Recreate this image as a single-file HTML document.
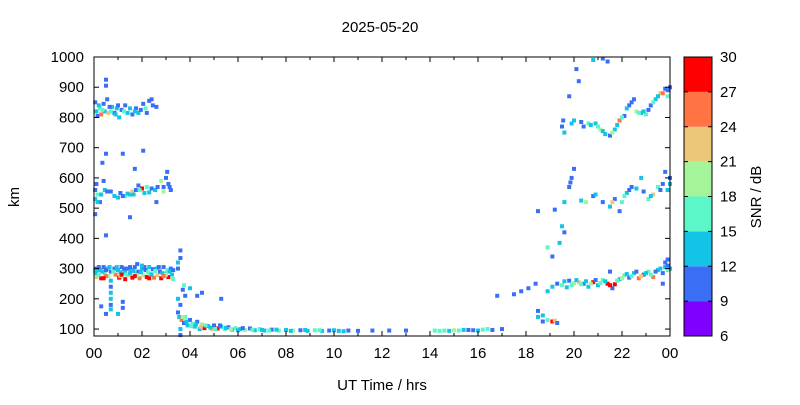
<!DOCTYPE html>
<html><head><meta charset="utf-8"><style>
body{margin:0;background:#fff;font-family:"Liberation Sans",sans-serif}
svg text{font-family:"Liberation Sans",sans-serif;font-size:15px;fill:#000}
</style></head><body>
<svg id="c" width="800" height="400" xmlns="http://www.w3.org/2000/svg">
<text x="380" y="32" text-anchor="middle">2025-05-20</text>
<text x="382" y="390" text-anchor="middle">UT Time / hrs</text>
<text transform="translate(19,197) rotate(-90)" text-anchor="middle">km</text>
<text transform="translate(761,197) rotate(-90)" text-anchor="middle">SNR / dB</text>
<g id="marks"></g><g id="axes"></g>
</svg>
<script>
const xTicks=[0,2,4,6,8,10,12,14,16,18,20,22,24];
const xTickLabels=["00","02","04","06","08","10","12","14","16","18","20","22","00"];
const yTicks=[100,200,300,400,500,600,700,800,900,1000];
const cbLevels=[6,9,12,15,18,21,24,27,30];
const cbColors=["#7f00ff","#3a6ff5","#14c4e6","#5cf7c8","#a4f59a","#ecc679","#ff7442","#ff0000"];
// [hour, km, snr]
const fLowEarly=[[0.1,300,10],[0.1,285,13],[0.1,272,22],[0.25,295,13],[0.3,268,28],[0.4,305,10],[0.45,282,16],[0.55,300,13],[0.6,275,19],[0.7,290,10],[0.7,260,13],[0.7,240,10],[0.7,220,13],[0.7,200,13],[0.7,180,10],[0.7,165,13],[0.85,300,10],[0.9,280,25],[1.0,295,13],[1.05,270,28],[1.15,305,10],[1.2,285,16],[1.3,290,13],[1.3,265,28],[1.4,300,10],[1.45,278,22],[1.55,296,13],[1.6,270,28],[1.7,305,10],[1.75,285,16],[1.85,290,10],[1.9,268,25],[2.0,300,13],[2.05,278,19],[2.15,295,10],[2.2,272,28],[2.3,305,13],[2.35,283,16],[2.45,298,10],[2.5,270,25],[2.6,300,13],[2.65,278,22],[2.75,290,10],[2.8,268,28],[2.9,305,10],[2.95,283,13],[3.05,295,16],[3.1,272,28],[3.2,300,10],[3.25,280,13],[3.3,265,16],[0.5,150,10],[1.0,150,13],[1.2,170,10],[1.2,190,10],[0.3,175,10],[3.6,360,10],[3.6,335,10],[3.5,320,13],
[0.05,292,13],[0.2,305,10],[0.2,280,16],[0.35,290,13],[0.5,295,10],[0.5,275,25],[0.65,305,13],[0.8,290,16],[0.95,305,13],[1.1,288,13],[1.1,275,22],[1.25,300,10],[1.35,280,16],[1.5,305,10],[1.5,285,13],[1.65,292,13],[1.8,278,19],[1.95,288,13],[2.1,305,10],[2.25,288,16],[2.4,280,13],[2.55,292,16],[2.7,305,10],[2.85,285,13],[3.0,280,19],[3.15,290,13],[3.3,295,10],[1.8,315,10],[2.0,310,13],[1.15,280,28],[1.7,275,28],[2.9,275,25],[0.4,268,28],[2.3,268,28]];
const fMidEarly=[[0.05,560,10],[0.05,530,13],[0.1,580,10],[0.15,545,16],[0.25,520,10],[0.3,545,13],[0.4,590,10],[0.45,560,13],[0.55,555,10],[0.7,555,10],[0.85,540,13],[1.0,535,13],[1.1,550,10],[1.3,540,16],[1.5,545,13],[1.6,555,22],[1.75,560,10],[1.85,575,10],[2.0,565,28],[2.1,550,13],[2.2,570,16],[2.4,565,10],[2.55,560,13],[2.65,570,10],[2.8,590,19],[2.9,570,10],[3.0,600,10],[3.05,620,10],[3.1,580,10],[3.2,560,10],[0.5,680,10],[0.5,410,10],[0.35,650,10],[1.2,680,10],[1.7,630,10],[1.5,470,10],[2.05,690,10],[2.6,520,10],[0.05,480,10],
[0.15,520,13],[0.6,555,10],[1.2,540,10],[1.4,548,13],[1.9,560,16],[2.3,552,13],[2.9,555,19],[3.15,570,10],[1.65,545,13]];
const fHighEarly=[[0.05,850,10],[0.1,820,13],[0.15,805,10],[0.25,830,16],[0.3,810,25],[0.4,845,10],[0.45,820,13],[0.55,860,10],[0.6,815,22],[0.75,835,13],[0.85,815,10],[0.95,830,13],[1.05,800,13],[1.15,825,10],[1.3,840,10],[1.4,815,13],[1.5,830,13],[1.6,810,10],[1.75,830,10],[1.85,815,13],[2.05,845,10],[2.15,830,16],[2.3,855,10],[2.45,840,10],[2.6,835,10],[0.5,925,10],[0.5,905,10],[2.2,815,10],
[0.2,840,13],[0.35,825,16],[0.65,835,10],[0.9,810,13],[1.25,820,16],[1.7,820,13],[1.95,825,10],[2.4,860,10],[0.7,820,16],[1.0,840,10]];
const eLayer=[[3.5,155,10],[3.55,140,13],[3.65,130,25],[3.75,120,10],[3.8,140,16],[3.9,112,13],[4.0,130,10],[4.1,118,16],[4.2,108,13],[4.3,124,10],[4.4,100,13],[4.5,115,19],[4.6,103,28],[4.75,110,13],[4.9,100,22],[5.0,112,10],[5.15,102,28],[5.3,108,13],[5.45,100,16],[5.6,106,10],[5.75,98,13],[5.9,103,16],[6.1,100,13],[6.3,97,19],[6.5,102,10],[6.7,96,13],[6.9,100,16],[7.1,95,13],[7.4,98,10],[7.7,95,16],[8.0,97,13],[8.3,95,19],[8.6,96,10],[8.9,94,13],[9.2,96,16],[9.5,94,13],[9.8,95,10],[10.2,94,13],[10.6,95,10],[11.0,94,10],[11.6,95,10],[12.3,95,10],[13.0,95,10],[14.2,95,16],[14.6,95,16],[15.0,96,19],[15.4,97,13],[15.8,96,10],[16.2,98,16],[16.6,97,10],[17.0,100,10],[3.7,230,10],[3.75,245,16],[3.8,210,10],[4.0,235,13],[4.3,210,10],[4.5,220,10],[5.3,200,10],[3.5,300,10],[3.6,180,10],[3.6,80,10],[3.5,200,13],[3.6,100,13],
[3.7,140,19],[3.85,125,13],[4.05,110,16],[4.25,115,13],[4.45,108,22],[4.65,112,16],[4.85,105,13],[5.05,100,16],[5.25,112,10],[5.5,104,13],[5.7,100,19],[6.0,96,13],[6.2,103,10],[6.6,98,16],[7.0,97,13],[7.3,95,16],[7.6,98,13],[8.2,94,13],[8.8,97,13],[9.4,96,16],[10.0,96,13],[10.4,93,13],[14.4,94,16],[14.8,94,13],[15.2,95,16],[15.6,97,10],[16.0,95,13],[16.4,100,16]];
const tail=[[16.8,210,10],[17.5,215,10],[17.8,225,10],[18.1,235,10],[18.4,250,10],[18.5,160,10],[18.5,140,13],[18.7,145,13],[18.9,130,16],[19.1,125,28],[19.2,128,22],[18.7,125,10],[19.3,120,10],[18.9,225,13],[19.1,240,13],[19.3,250,10],[19.5,245,16],[19.7,238,13],[19.8,260,10],[20.0,252,19],[20.2,255,22],[20.4,250,10],[20.6,240,13],[20.8,255,28],[21.0,245,13],[21.2,262,16],[21.4,250,28],[21.6,235,10],[21.7,248,28],[21.9,265,13],[22.1,278,16],[22.3,270,10],[22.5,285,13],[22.7,268,25],[22.9,280,10],[23.1,290,16],[23.3,272,25],[23.5,295,13],[23.7,285,10],[23.8,305,13],[23.9,330,10],[24.0,300,13],[23.7,250,10],[21.5,290,10],[19.1,340,10],[18.9,370,16],[19.4,385,13],[19.6,420,10],[19.5,440,13],[18.5,490,10],
[19.6,258,13],[19.9,245,16],[20.1,262,13],[20.3,248,16],[20.5,258,13],[20.7,250,19],[20.9,262,10],[21.1,252,16],[21.3,258,13],[21.5,245,28],[21.8,260,16],[22.0,268,19],[22.2,282,13],[22.4,275,16],[22.6,290,10],[22.8,275,22],[23.0,285,13],[23.2,280,16],[23.4,290,10],[23.6,300,13],[23.9,295,16],[23.9,310,10],[23.8,320,10]];
const fMidLate=[[19.6,520,13],[19.8,570,10],[19.9,600,10],[20.0,630,10],[20.3,525,13],[20.5,520,19],[20.8,540,10],[21.2,520,10],[21.5,505,13],[21.7,530,10],[21.9,490,10],[22.0,520,16],[22.2,550,13],[22.4,570,10],[22.6,565,13],[22.9,555,10],[23.1,530,16],[23.3,545,22],[23.5,570,16],[23.7,580,10],[23.8,620,10],[24.0,600,10],[23.9,560,13],[19.2,495,10],[22.8,600,13],
[21.6,520,22],[22.1,540,16],[22.3,560,10],[23.2,540,13],[23.6,560,10],[24.0,580,13],[19.85,585,10],[20.9,545,13]];
const fHighLate=[[19.5,770,10],[19.6,750,13],[19.8,870,10],[20.0,790,13],[20.1,960,10],[20.4,770,10],[20.6,780,16],[20.9,780,13],[21.1,760,19],[21.3,745,13],[21.5,740,10],[21.7,760,13],[21.9,790,25],[22.1,805,10],[22.3,840,10],[22.5,860,10],[22.6,820,19],[22.8,815,13],[23.0,810,16],[23.2,840,10],[23.4,860,13],[23.6,880,22],[23.8,895,10],[23.9,870,16],[24.0,900,10],[20.8,990,13],[21.2,995,10],[21.4,985,10],[20.2,920,10],
[19.55,790,10],[19.9,780,13],[20.3,785,10],[20.7,775,13],[21.0,770,16],[21.2,755,13],[21.6,750,19],[21.8,775,13],[22.0,800,16],[22.2,830,13],[22.4,850,10],[22.7,815,16],[22.9,820,13],[23.1,825,10],[23.3,850,16],[23.5,870,13],[23.7,880,25],[23.9,890,10]];

const X0=94,X1=670,Y0=57,Y1=336,KM0=77,KM1=1000;
const sx=h=>X0+(h/24)*(X1-X0);
const sy=k=>Y1-(k-KM0)/(KM1-KM0)*(Y1-Y0);
const col=s=>{for(let i=0;i<cbColors.length;i++){if(s<cbLevels[i+1])return cbColors[i];}return cbColors[cbColors.length-1];};
const NS="http://www.w3.org/2000/svg";
const marks=document.getElementById('marks'),axes=document.getElementById('axes');
function mk(t,a,p){const e=document.createElementNS(NS,t);for(const k in a)e.setAttribute(k,a[k]);(p||axes).appendChild(e);return e;}
[fLowEarly,fMidEarly,fHighEarly,eLayer,tail,fMidLate,fHighLate].forEach(arr=>arr.forEach(d=>{
  const r=mk('rect',{x:sx(d[0])-2,y:sy(d[1])-2,width:4,height:4,fill:col(d[2])},marks);
  
  
}));
const fr=mk('rect',{x:X0,y:Y0,width:X1-X0,height:Y1-Y0,fill:'none',stroke:'#000','stroke-width':1});


xTicks.forEach((h,i)=>{
  mk('line',{x1:sx(h),x2:sx(h),y1:Y1,y2:Y1-5,stroke:'#000'});
  mk('line',{x1:sx(h),x2:sx(h),y1:Y0,y2:Y0+5,stroke:'#000'});
  if(i<xTicks.length-1){const m=sx(h+1);mk('line',{x1:m,x2:m,y1:Y1,y2:Y1-3,stroke:'#000'});mk('line',{x1:m,x2:m,y1:Y0,y2:Y0+3,stroke:'#000'});}
  const t=mk('text',{x:sx(h),y:Y1+22,'text-anchor':'middle'});t.textContent=xTickLabels[i];
  
  
});
yTicks.forEach(k=>{
  mk('line',{x1:X0,x2:X0+5,y1:sy(k),y2:sy(k),stroke:'#000'});
  mk('line',{x1:X1,x2:X1-5,y1:sy(k),y2:sy(k),stroke:'#000'});
  const t=mk('text',{x:X0-10,y:sy(k)+5,'text-anchor':'end'});t.textContent=k;
  
  
});
const CX=684,CW=28,n=cbColors.length,bh=(Y1-Y0)/n;
cbColors.forEach((c,i)=>{const r=mk('rect',{x:CX,y:Y1-(i+1)*bh,width:CW,height:bh,fill:c});
  
  });
mk('rect',{x:CX,y:Y0,width:CW,height:Y1-Y0,fill:'none',stroke:'#000'});
cbLevels.forEach((v,i)=>{const y=Y1-i*bh;
  mk('line',{x1:CX,x2:CX+4,y1:y,y2:y,stroke:'#000'});mk('line',{x1:CX+CW,x2:CX+CW-4,y1:y,y2:y,stroke:'#000'});
  const t=mk('text',{x:CX+CW+8,y:y+5});t.textContent=v;
  
  });
</script>
</body></html>
